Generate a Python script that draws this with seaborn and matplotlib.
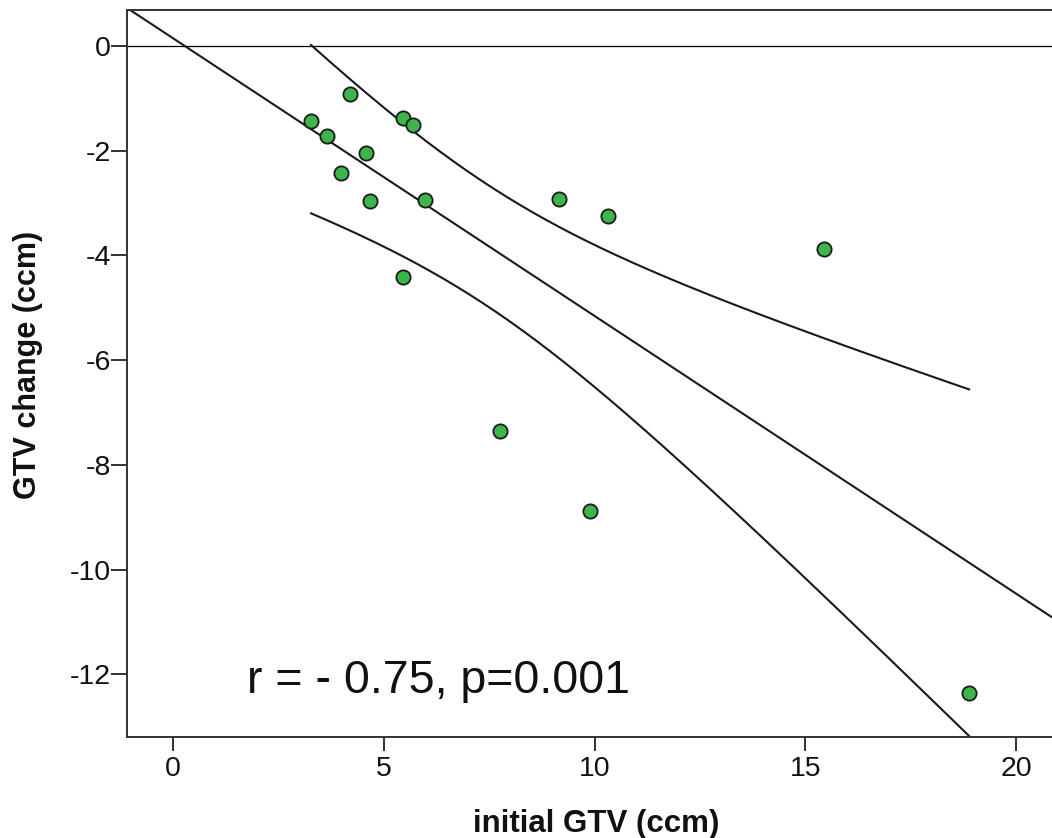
import numpy as np
import pandas as pd
import matplotlib
matplotlib.use("Agg")
import matplotlib.pyplot as plt
import seaborn as sns

# Initial gross tumour volume and its change after treatment (ccm)
initial_gtv = [3.27, 3.65, 3.98, 4.19, 4.57, 4.67, 5.45, 5.69,
               5.97, 5.45, 7.75, 9.15, 9.88, 10.33, 15.45, 18.89]
gtv_change = [-1.43, -1.72, -2.43, -0.92, -2.05, -2.96, -1.38, -1.51,
              -2.94, -4.41, -7.36, -2.92, -8.88, -3.24, -3.87, -12.36]

x_ticks = [0, 5, 10, 15, 20]
y_ticks = [0, -2, -4, -6, -8, -10, -12]
annotation = "r = - 0.75, p=0.001"

df = pd.DataFrame({"initial": initial_gtv, "change": gtv_change})

sns.set_theme(style="white")
plt.rcParams["font.family"] = ["Liberation Sans", "DejaVu Sans"]
plt.rcParams["axes.unicode_minus"] = False

fig = plt.figure(figsize=(10.52, 8.38), dpi=100)
W, H = 1052, 838
ax = fig.add_axes([127 / W, 101 / H, (1052 - 127) / W, 727 / H])

xlim = (-1.09, 20.85)
ylim = (-13.2, 0.69)
ax.set_xlim(*xlim)
ax.set_ylim(*ylim)

# reference line at zero change
ax.axhline(0, color="black", lw=0.9, zorder=1)

# least-squares fit across the full axis
sns.regplot(data=df, x="initial", y="change", scatter=False, ci=None,
            truncate=False, ax=ax,
            line_kws=dict(color="#1a1a1a", lw=1.5, zorder=2))

# 95% confidence limits of the mean prediction
x = np.asarray(initial_gtv)
y = np.asarray(gtv_change)
n = len(x)
slope, intercept = np.polyfit(x, y, 1)
resid = y - (slope * x + intercept)
s = np.sqrt(np.sum(resid ** 2) / (n - 2))
sxx = np.sum((x - x.mean()) ** 2)
t_crit = 2.145  # t(0.975, df=14)
xs = np.linspace(x.min(), x.max(), 200)
se = s * np.sqrt(1 / n + (xs - x.mean()) ** 2 / sxx)
fit = slope * xs + intercept
bands = pd.DataFrame({"x": np.concatenate([xs, xs]),
                      "y": np.concatenate([fit + t_crit * se, fit - t_crit * se]),
                      "limit": ["upper"] * len(xs) + ["lower"] * len(xs)})
sns.lineplot(data=bands, x="x", y="y", units="limit", estimator=None,
             color="#1a1a1a", lw=1.5, ax=ax, zorder=2)

sns.scatterplot(data=df, x="initial", y="change", ax=ax, s=105,
                color="#3db54a", edgecolor="#1a1a1a", linewidth=1.3,
                zorder=3)

ax.text(1.76, -12.36, annotation, fontsize=33.5, va="baseline", ha="left",
        color="#111111")

ax.set_xticks(x_ticks)
ax.set_yticks(y_ticks)
ax.set_xticklabels([str(v) for v in x_ticks])
ax.set_yticklabels([str(v) for v in y_ticks])
ax.tick_params(axis="both", which="major", direction="out",
               width=1.3, color="#222222", labelsize=20.5,
               labelcolor="#111111", bottom=True, left=True)
ax.tick_params(axis="x", length=10, pad=4)
ax.tick_params(axis="y", length=11.5, pad=0)

ax.set_xlabel("initial GTV (ccm)", fontsize=22.5, fontweight="bold",
              color="#111111")
ax.set_ylabel("GTV change (ccm)", fontsize=22, fontweight="bold",
              color="#111111")
ax.xaxis.set_label_coords(0.507, -0.099)
ax.yaxis.set_label_coords(-0.091, 0.512)

for side in ("left", "bottom", "top"):
    ax.spines[side].set_visible(True)
    ax.spines[side].set_color("#333333")
    ax.spines[side].set_linewidth(1.4)
ax.spines["right"].set_visible(False)
ax.grid(False)

fig.savefig("out.png", dpi=100)
